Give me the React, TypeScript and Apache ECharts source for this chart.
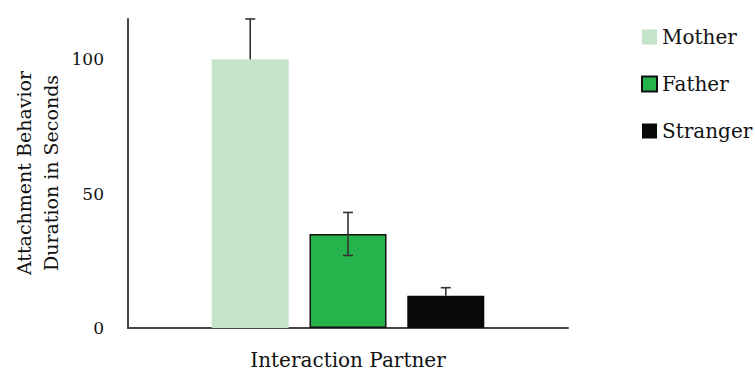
import React, { useEffect, useRef } from "react";
import * as echarts from "echarts";

const categories = ["Interaction Partner"];
const seriesNames = ["Mother", "Father", "Stranger"];
const means = [100, 35, 12];
const errPlus = [15, 8, 3];
const errMinus = [0, 8, 0];
const yTicks = [0, 50, 100];

const colors = ["#c5e3c8", "#25b34b", "#090909"];
const FONT = "DejaVu Serif";
const BAR_W = 77;
const BAR_GAP = 0.27;

export default function App() {
  const ref = useRef<HTMLDivElement>(null);
  useEffect(() => {
    if (!ref.current) return;
    const chart = echarts.init(ref.current, undefined, { renderer: "svg" });
    const barSeries = seriesNames.map((name, i) => ({
      name,
      type: "bar",
      data: [means[i]],
      barWidth: BAR_W,
      barGap: BAR_GAP * 100 + "%",
      itemStyle: {
        color: colors[i],
        borderColor: i === 1 ? "#111" : colors[i],
        borderWidth: i === 1 ? 1.5 : 0,
      },
      z: 2,
    }));
    const errSeries = seriesNames.map((name, i) => ({
      name: name + " error",
      type: "custom",
      data: [[0, means[i] - errMinus[i], means[i] + errPlus[i], means[i]]],
      z: 5,
      renderItem: (params: any, api: any) => {
        const lo = api.value(1);
        const hi = api.value(2);
        const p0 = api.coord([0, lo]);
        const p1 = api.coord([0, hi]);
        const cx = p0[0] + (i - 1) * BAR_W * (1 + BAR_GAP);
        const st = { stroke: "#333", lineWidth: 1.6 };
        const children: any[] = [
          { type: "line", shape: { x1: cx, y1: p1[1], x2: cx, y2: p0[1] }, style: st },
          { type: "line", shape: { x1: cx - 5, y1: p1[1], x2: cx + 5, y2: p1[1] }, style: st },
        ];
        if (errMinus[i] > 0) {
          children.push({ type: "line", shape: { x1: cx - 5, y1: p0[1], x2: cx + 5, y2: p0[1] }, style: st });
        }
        return { type: "group", children };
      },
    }));
    chart.setOption({
      animation: false,
      grid: { left: 128, right: 187, top: 19, bottom: 44, outerBoundsMode: "none" },
      legend: {
        data: seriesNames,
        orient: "vertical",
        left: 641,
        top: 27,
        itemWidth: 15,
        itemHeight: 15,
        itemGap: 27,
        padding: 0,
        icon: "rect",
        textStyle: { fontFamily: FONT, fontSize: 20, color: "#111" },
      },
      xAxis: {
        type: "category",
        data: categories,
        name: categories[0],
        nameLocation: "middle",
        nameGap: 22,
        nameTextStyle: { fontFamily: FONT, fontSize: 20, color: "#111" },
        axisLine: { lineStyle: { color: "#444", width: 2 } },
        axisTick: { show: false },
        axisLabel: { show: false },
      },
      yAxis: {
        type: "value",
        min: yTicks[0],
        max: 115,
        interval: yTicks[1] - yTicks[0],
        axisLine: { show: true, lineStyle: { color: "#444", width: 2 } },
        axisTick: { show: false },
        splitLine: { show: false },
        axisLabel: {
          showMaxLabel: false,
          margin: 24,
          fontFamily: FONT,
          fontSize: 17,
          color: "#111",
        },
      },
      graphic: [
        {
          type: "text",
          x: 37.5,
          y: 173,
          rotation: Math.PI / 2,
          style: {
            text: "Attachment Behavior\nDuration in Seconds",
            fontFamily: FONT,
            fontSize: 19,
            lineHeight: 27,
            fill: "#111",
            align: "center",
            verticalAlign: "middle",
          },
        },
      ],
      series: [...barSeries, ...errSeries],
    });
    return () => chart.dispose();
  }, []);
  return (
    <div
      ref={ref}
      style={{ position: "fixed", left: 0, top: 0, width: 755, height: 372, background: "#fff" }}
    />
  );
}
